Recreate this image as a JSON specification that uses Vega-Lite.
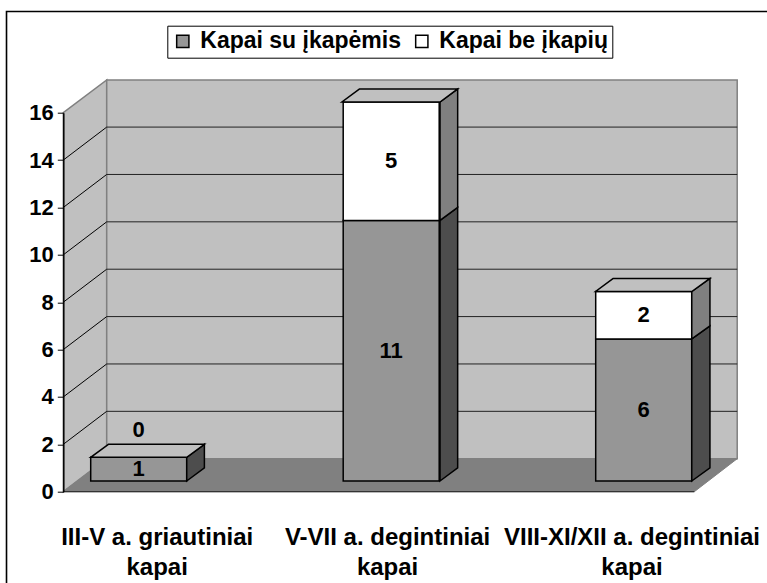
{
"$schema":"https://vega.github.io/schema/vega-lite/v6.json",
"width":631,"height":379,
"autosize":{"type":"none"},
"padding":{"left":63.3,"top":112.7,"right":72.7,"bottom":91.3},
"background":"white",
"config":{"view":{"stroke":null},"font":"Liberation Sans"},
"datasets":{
"graves":[
{"category":"III-V a. griautiniai kapai","series":"Kapai su įkapėmis","value":1},
{"category":"III-V a. griautiniai kapai","series":"Kapai be įkapių","value":0},
{"category":"V-VII a. degintiniai kapai","series":"Kapai su įkapėmis","value":11},
{"category":"V-VII a. degintiniai kapai","series":"Kapai be įkapių","value":5},
{"category":"VIII-XI/XII a. degintiniai kapai","series":"Kapai su įkapėmis","value":6},
{"category":"VIII-XI/XII a. degintiniai kapai","series":"Kapai be įkapių","value":2}
],
"grid":[{"tick":2,"back":3.393},{"tick":4,"back":5.393},{"tick":6,"back":7.393},{"tick":8,"back":9.393},{"tick":10,"back":11.393},{"tick":12,"back":13.393},{"tick":14,"back":15.393}],
"leftWall":[{"x":0,"lo":0,"hi":16},{"x":0.172,"lo":1.393,"hi":17.385}],
"floor":[{"y":0,"xl":0,"xr":2.5},{"y":1.393,"xl":0.172,"xr":2.67}],
"sides":[
{"bar":"a","series":"su","x":0.489,"lo":0.452,"hi":1.452},
{"bar":"a","series":"su","x":0.559,"lo":1.002,"hi":2.002},
{"bar":"b","series":"su","x":1.4925,"lo":0.452,"hi":11.452},
{"bar":"b","series":"su","x":1.5625,"lo":1.002,"hi":12.002},
{"bar":"b","series":"be","x":1.4925,"lo":11.452,"hi":16.452},
{"bar":"b","series":"be","x":1.5625,"lo":12.002,"hi":17.002},
{"bar":"c","series":"su","x":2.49,"lo":0.452,"hi":6.452},
{"bar":"c","series":"su","x":2.562,"lo":1.002,"hi":7.002},
{"bar":"c","series":"be","x":2.49,"lo":6.452,"hi":8.452},
{"bar":"c","series":"be","x":2.562,"lo":7.002,"hi":9.002}
],
"tops":[
{"bar":"a","y":1.452,"xl":0.1086,"xr":0.489},
{"bar":"a","y":2.002,"xl":0.1786,"xr":0.559},
{"bar":"b","y":16.452,"xl":1.104,"xr":1.4925},
{"bar":"b","y":17.002,"xl":1.174,"xr":1.5625},
{"bar":"c","y":8.452,"xl":2.109,"xr":2.49},
{"bar":"c","y":9.002,"xl":2.179,"xr":2.562}
]
},
"resolve":{"scale":{"x":"independent"},"axis":{"y":"independent"}},
"layer":[
{"data":{"values":[{"xa":-0.225,"xb":2.95,"ya":-5,"yb":20.27}]},
 "mark":{"type":"rect","fill":"transparent","stroke":"#000","strokeWidth":1.6},
 "encoding":{"x":{"field":"xa","type":"quantitative","scale":{"domain":[0,2.5]},"axis":null},"x2":{"field":"xb"},"y":{"field":"ya","type":"quantitative","scale":{"domain":[0,16],"nice":false},"axis":null},"y2":{"field":"yb"}}},
{"data":{"name":"leftWall"},
 "mark":{"type":"area","fill":"#c0c0c0","stroke":"#808080","strokeWidth":1.5},
 "encoding":{"x":{"field":"x","type":"quantitative","scale":{"domain":[0,2.5]},"axis":null},"y":{"field":"lo","type":"quantitative","scale":{"domain":[0,16],"nice":false},"axis":null},"y2":{"field":"hi"}}},
{"data":{"values":[{"xa":0.172,"xb":2.67,"ya":1.393,"yb":17.385}]},
 "mark":{"type":"rect","fill":"#c0c0c0","stroke":"#808080","strokeWidth":1.5},
 "encoding":{"x":{"field":"xa","type":"quantitative","scale":{"domain":[0,2.5]},"axis":null},"x2":{"field":"xb"},"y":{"field":"ya","type":"quantitative","scale":{"domain":[0,16],"nice":false},"axis":null},"y2":{"field":"yb"}}},
{"data":{"name":"floor"},
 "mark":{"type":"area","orient":"horizontal","fill":"#808080","stroke":"#808080","strokeWidth":1},
 "encoding":{"y":{"field":"y","type":"quantitative","scale":{"domain":[0,16],"nice":false},"axis":null},"x":{"field":"xl","type":"quantitative","scale":{"domain":[0,2.5]},"axis":null},"x2":{"field":"xr"}}},
{"data":{"values":[{"xa":0,"xb":2.5,"y":0}]},
 "mark":{"type":"rule","stroke":"#333","strokeWidth":1.2},
 "encoding":{"x":{"field":"xa","type":"quantitative","scale":{"domain":[0,2.5]},"axis":null},"x2":{"field":"xb"},"y":{"field":"y","type":"quantitative","scale":{"domain":[0,16],"nice":false},"axis":null}}},
{"data":{"name":"grid"},
 "mark":{"type":"rule","stroke":"#000","strokeWidth":1},
 "encoding":{"x":{"datum":0,"type":"quantitative","scale":{"domain":[0,2.5]},"axis":null},"x2":{"datum":0.172},"y":{"field":"tick","type":"quantitative","scale":{"domain":[0,16],"nice":false},"axis":null},"y2":{"field":"back"}}},
{"data":{"name":"grid"},
 "mark":{"type":"rule","stroke":"#222","strokeWidth":1},
 "encoding":{"x":{"datum":0.172,"type":"quantitative","scale":{"domain":[0,2.5]},"axis":null},"x2":{"datum":2.67},"y":{"field":"back","type":"quantitative","scale":{"domain":[0,16],"nice":false},"axis":null}}},
{"data":{"name":"graves"},
 "mark":{"type":"point","opacity":0},
 "encoding":{
  "x":{"field":"category","type":"nominal","sort":null,"scale":{"type":"point","range":[93.4,568.2],"padding":0},
   "axis":{"title":null,"zindex":1,"domain":false,"ticks":false,"labelAngle":0,"labelFont":"Liberation Sans","labelFontWeight":"bold","labelFontSize":24,"labelColor":"#000","labelLimit":400,"labelPadding":34,"labelLineHeight":30,"labelBaseline":"top","labelAlign":"center","labelOverlap":false,"labelFlush":false,
    "labelOffset":{"condition":{"test":"datum.value=='V-VII a. degintiniai kapai'","value":-7},"value":0},
    "labelExpr":"split(replace(datum.label,' kapai','|kapai'),'|')"}},
  "y":{"field":"value","type":"quantitative","scale":{"domain":[0,16],"nice":false},
   "axis":{"values":[0,2,4,6,8,10,12,14,16],"zindex":1,"title":null,"grid":false,"domain":true,"ticks":true,"labels":true,"domainColor":"#000","domainWidth":1.5,"tickColor":"#000","tickSize":6,"tickWidth":1,"labelFont":"Liberation Sans","labelFontWeight":"bold","labelFontSize":22,"labelColor":"#000","labelPadding":4}}}},
{"data":{"name":"graves"},
 "transform":[{"stack":"value","groupby":["category"],"sort":[{"field":"series","order":"descending"}],"as":["v0","v1"]}],
 "mark":{"type":"bar","width":96,"yOffset":-10.7,"y2Offset":-10.7,"stroke":"#000","strokeWidth":1.5},
 "encoding":{
  "x":{"field":"category","type":"nominal","sort":null,"scale":{"type":"point","range":[75.4,580.4],"padding":0},"axis":null},
  "y":{"field":"v0","type":"quantitative","scale":{"domain":[0,16],"nice":false},"axis":null},
  "y2":{"field":"v1"},
  "fill":{"field":"series","type":"nominal","scale":{"domain":["Kapai su įkapėmis","Kapai be įkapių"],"range":["#969696","#ffffff"]},
   "legend":{"title":null,"orient":"none","legendX":104,"legendY":-87,"direction":"horizontal","columns":2,"fillColor":"#fff","strokeColor":"#000","padding":4,"symbolType":"square","symbolSize":150,"symbolStrokeColor":"#000","symbolStrokeWidth":1.5,"labelFont":"Liberation Sans","labelFontWeight":"bold","labelFontSize":23,"labelColor":"#000","labelLimit":400,"columnPadding":9,"labelOffset":6}}}},
{"data":{"name":"sides"},"transform":[{"filter":"datum.series=='su'"}],
 "mark":{"type":"area","fill":"#4d4d4d","stroke":"#000","strokeWidth":1.5},
 "encoding":{"detail":{"field":"bar"},"x":{"field":"x","type":"quantitative","scale":{"domain":[0,2.5]},"axis":null},"y":{"field":"lo","type":"quantitative","scale":{"domain":[0,16],"nice":false},"axis":null},"y2":{"field":"hi"}}},
{"data":{"name":"sides"},"transform":[{"filter":"datum.series=='be'"}],
 "mark":{"type":"area","fill":"#808080","stroke":"#000","strokeWidth":1.5},
 "encoding":{"detail":{"field":"bar"},"x":{"field":"x","type":"quantitative","scale":{"domain":[0,2.5]},"axis":null},"y":{"field":"lo","type":"quantitative","scale":{"domain":[0,16],"nice":false},"axis":null},"y2":{"field":"hi"}}},
{"data":{"name":"tops"},
 "mark":{"type":"area","orient":"horizontal","fill":"#c0c0c0","stroke":"#000","strokeWidth":1.5},
 "encoding":{"detail":{"field":"bar"},"y":{"field":"y","type":"quantitative","scale":{"domain":[0,16],"nice":false},"axis":null},"x":{"field":"xl","type":"quantitative","scale":{"domain":[0,2.5]},"axis":null},"x2":{"field":"xr"}}},
{"data":{"name":"graves"},
 "transform":[{"filter":"datum.value>0"}],
 "mark":{"type":"text","font":"Liberation Sans","fontWeight":"bold","fontSize":22,"fill":"#000","yOffset":-10.7,"baseline":"middle"},
 "encoding":{
  "x":{"field":"category","type":"nominal","sort":null,"scale":{"type":"point","domain":["III-V a. griautiniai kapai","V-VII a. degintiniai kapai","VIII-XI/XII a. degintiniai kapai"],"range":[75.4,580.4],"padding":0},"axis":null},
  "y":{"aggregate":"sum","field":"value","type":"quantitative","stack":"zero","bandPosition":0.5,"scale":{"domain":[0,16],"nice":false},"axis":null},
  "detail":{"field":"series"},
  "text":{"field":"value","type":"quantitative"}}},
{"data":{"name":"graves"},
 "transform":[{"stack":"value","groupby":["category"],"sort":[{"field":"series","order":"descending"}],"as":["v0","v1"]},{"filter":"datum.value==0"}],
 "mark":{"type":"text","font":"Liberation Sans","fontWeight":"bold","fontSize":22,"fill":"#000","yOffset":-38,"baseline":"middle"},
 "encoding":{
  "x":{"field":"category","type":"nominal","sort":null,"scale":{"type":"point","domain":["III-V a. griautiniai kapai","V-VII a. degintiniai kapai","VIII-XI/XII a. degintiniai kapai"],"range":[75.4,580.4],"padding":0},"axis":null},
  "y":{"field":"v1","type":"quantitative","scale":{"domain":[0,16],"nice":false},"axis":null},
  "text":{"field":"value","type":"quantitative"}}}
]
}
